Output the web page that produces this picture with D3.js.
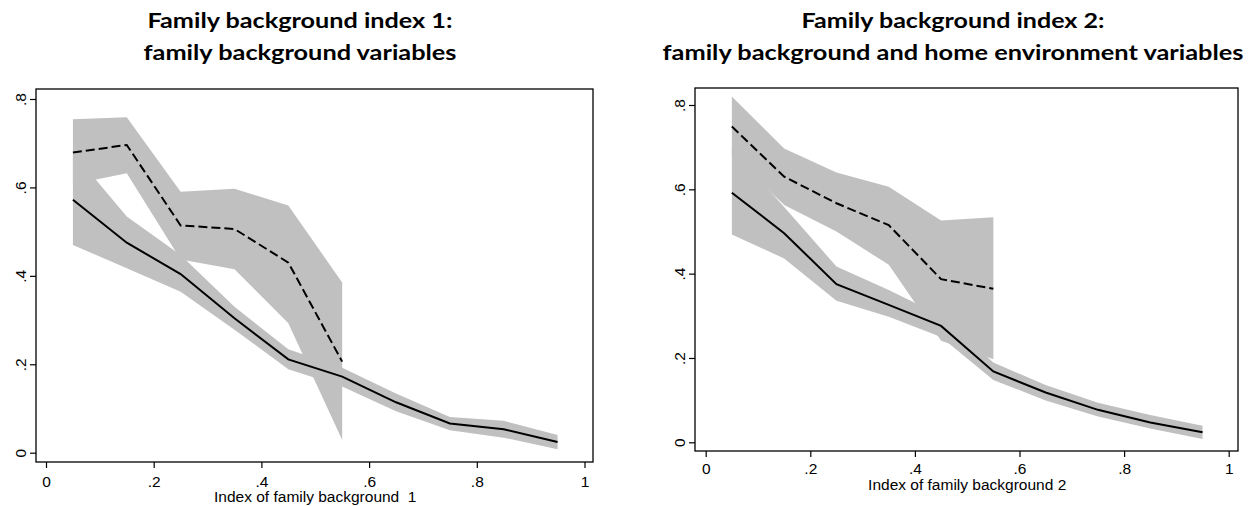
<!DOCTYPE html>
<html>
<head>
<meta charset="utf-8">
<script src="https://cdn.jsdelivr.net/npm/d3@7"></script>
<style>
  html, body { margin: 0; padding: 0; background: #fff; }
  svg { display: block; }
</style>
</head>
<body>
<svg id="chart" width="1251" height="506"></svg>
<script>
// ---------------- data ----------------
const xBins = [0.05, 0.15, 0.25, 0.35, 0.45, 0.55, 0.65, 0.75, 0.85, 0.95];
const xTicks = [0, 0.2, 0.4, 0.6, 0.8, 1];
const yTicks = [0, 0.2, 0.4, 0.6, 0.8];

// Panel 1: family background index 1
const solid1   = [0.572, 0.475, 0.404, 0.304, 0.211, 0.172, 0.114, 0.066, 0.053, 0.024];
const solid1Lo = [0.470, 0.417, 0.364, 0.278, 0.189, 0.150, 0.094, 0.051, 0.034, 0.008];
const solid1Hi = [0.679, 0.534, 0.447, 0.330, 0.234, 0.192, 0.134, 0.081, 0.072, 0.040];
const dashed1   = [0.679, 0.696, 0.514, 0.506, 0.430, 0.206];
const dashed1Lo = [0.607, 0.632, 0.437, 0.415, 0.293, 0.029];
const dashed1Hi = [0.754, 0.759, 0.590, 0.597, 0.559, 0.385];

// Panel 2: family background index 2
const solid2   = [0.592, 0.496, 0.375, 0.326, 0.276, 0.168, 0.118, 0.077, 0.047, 0.024];
const solid2Lo = [0.493, 0.436, 0.336, 0.298, 0.250, 0.148, 0.099, 0.061, 0.033, 0.008];
const solid2Hi = [0.696, 0.558, 0.417, 0.361, 0.300, 0.189, 0.136, 0.094, 0.065, 0.039];
const dashed2   = [0.749, 0.630, 0.567, 0.515, 0.387, 0.364];
const dashed2Lo = [0.682, 0.563, 0.500, 0.421, 0.241, 0.197];
const dashed2Hi = [0.820, 0.697, 0.640, 0.606, 0.526, 0.534];

const titles1 = ["Family background index 1:", "family background variables"];
const titles2 = ["Family background index 2:", "family background and home environment variables"];
const xTitle1 = "Index of family background\u00a0 1";
const xTitle2 = "Index of family background 2";

// ---------------- layout ----------------
const panels = [
  {
    titles: titles1, titleX: 300, titleW: [305, 313],
    xTitle: xTitle1,
    box: {l: 36, r: 593, t: 89, b: 462},
    xr: [46, 584.5], yr: [452.7, 99],
    tickLabelY: 487, xTitleY: 502,
    solid: solid1, solidLo: solid1Lo, solidHi: solid1Hi,
    dashed: dashed1, dashedLo: dashed1Lo, dashedHi: dashed1Hi
  },
  {
    titles: titles2, titleX: 953, titleW: [303, 581],
    xTitle: xTitle2,
    box: {l: 695, r: 1238, t: 88, b: 451},
    xr: [705.7, 1228.7], yr: [442.3, 105],
    tickLabelY: 474, xTitleY: 489.5,
    solid: solid2, solidLo: solid2Lo, solidHi: solid2Hi,
    dashed: dashed2, dashedLo: dashed2Lo, dashedHi: dashed2Hi
  }
];

const svg = d3.select("#chart");
const fmt = d => d === 0 ? "0" : d === 1 ? "1" : d3.format(".1f")(d).replace(/^0/, "");
const bandColor = "#c0c0c0";
const axisFont = "'Liberation Sans', Arial, sans-serif";

panels.forEach(p => {
  const g = svg.append("g");
  const x = d3.scaleLinear().domain([0, 1]).range(p.xr);
  const y = d3.scaleLinear().domain([0, 0.8]).range(p.yr);

  // titles
  p.titles.forEach((t, i) => {
    g.append("text")
      .attr("x", p.titleX).attr("y", 28 + i * 32)
      .attr("text-anchor", "middle")
      .attr("font-family", "Lato, 'Open Sans', sans-serif")
      .attr("font-weight", "bold")
      .attr("font-size", 21)
      .attr("textLength", p.titleW[i])
      .attr("lengthAdjust", "spacingAndGlyphs")
      .text(t);
  });

  // CI bands
  const solidBand = xBins.map((v, i) => ({x: v, lo: p.solidLo[i], hi: p.solidHi[i]}));
  const dashedBand = xBins.slice(0, p.dashed.length).map((v, i) => ({x: v, lo: p.dashedLo[i], hi: p.dashedHi[i]}));
  const area = d3.area().x(d => x(d.x)).y0(d => y(d.lo)).y1(d => y(d.hi));
  g.append("path").datum(solidBand).attr("d", area).attr("fill", bandColor);
  g.append("path").datum(dashedBand).attr("d", area).attr("fill", bandColor);

  // lines
  const line = d3.line().x(d => x(d.x)).y(d => y(d.v));
  g.append("path")
    .datum(xBins.map((v, i) => ({x: v, v: p.solid[i]})))
    .attr("d", line).attr("fill", "none")
    .attr("stroke", "#000").attr("stroke-width", 2);
  g.append("path")
    .datum(xBins.slice(0, p.dashed.length).map((v, i) => ({x: v, v: p.dashed[i]})))
    .attr("d", line).attr("fill", "none")
    .attr("stroke", "#000").attr("stroke-width", 2)
    .attr("stroke-dasharray", "9,4");

  // box
  g.append("rect")
    .attr("x", p.box.l).attr("y", p.box.t)
    .attr("width", p.box.r - p.box.l).attr("height", p.box.b - p.box.t)
    .attr("fill", "none").attr("stroke", "#000").attr("stroke-width", 1.3);

  // y axis
  const ya = g.append("g")
    .attr("transform", `translate(${p.box.l},0)`)
    .call(d3.axisLeft(y).tickValues(yTicks).tickSize(6).tickFormat(fmt));
  ya.select(".domain").remove();
  ya.selectAll(".tick line").attr("stroke", "#000").attr("stroke-width", 1.2);
  ya.selectAll(".tick text")
    .attr("x", null).attr("dy", null)
    .attr("transform", "translate(-10,0) rotate(-90)")
    .attr("text-anchor", "middle")
    .attr("font-family", axisFont).attr("font-size", 15.5).attr("fill", "#000");

  // x axis
  const xa = g.append("g")
    .attr("transform", `translate(0,${p.box.b})`)
    .call(d3.axisBottom(x).tickValues(xTicks).tickSize(6).tickFormat(fmt));
  xa.select(".domain").remove();
  xa.selectAll(".tick line").attr("stroke", "#000").attr("stroke-width", 1.2);
  xa.selectAll(".tick text")
    .attr("y", p.tickLabelY - p.box.b).attr("dy", null)
    .attr("font-family", axisFont).attr("font-size", 15.5).attr("fill", "#000");

  // x axis title
  g.append("text")
    .attr("x", (p.xr[0] + p.xr[1]) / 2).attr("y", p.xTitleY)
    .attr("text-anchor", "middle")
    .attr("font-family", axisFont).attr("font-size", 15.5)
    .text(p.xTitle);
});
</script>
</body>
</html>
